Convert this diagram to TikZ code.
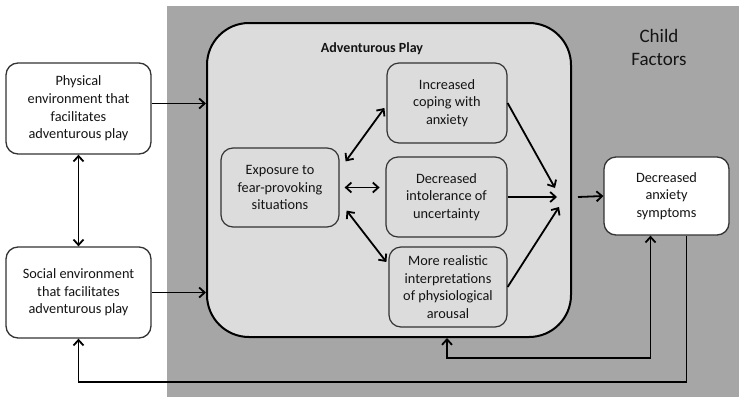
\documentclass[tikz,border=0pt]{standalone}
\usepackage{fontspec}
\setmainfont{Carlito}
\usetikzlibrary{arrows.meta,calc}
\definecolor{bgGray}{HTML}{A6A6A6}
\definecolor{lightGray}{HTML}{DCDCDC}
\definecolor{edgeGray}{HTML}{333333}
\tikzset{
  txt/.style={font=\fontsize{14.3}{17.6}\selectfont, align=center, text=black!92},
  whitebox/.style={txt, draw=edgeGray, line width=1.3pt, fill=white, rounded corners=12pt},
  innerbox/.style={txt, draw=edgeGray, line width=1.2pt, fill=lightGray, rounded corners=12pt},
  bigbox/.style={draw=black, line width=2pt, fill=lightGray, rounded corners=42pt},
  arr/.style={line width=1.8pt, -{Straight Barb[length=5.5pt,width=10pt]}},
  dblarr/.style={line width=1.8pt, {Straight Barb[length=5.5pt,width=10pt]}-{Straight Barb[length=5.5pt,width=10pt]}},
}
\begin{document}
\begin{tikzpicture}[x=1pt,y=-1pt]
\useasboundingbox (0,0) rectangle (743,402);
\fill[bgGray] (167,6) rectangle (739,397);
\node[txt, font=\fontsize{19}{23}\selectfont] (child) at (659,47) {Child\\Factors};
\node[bigbox, minimum width=364, minimum height=314] (ap) at (389,180) {};
\node[txt, font=\fontsize{14}{17}\selectfont\bfseries] (aptitle) at (372,49) {Adventurous Play};

\node[whitebox, minimum width=145, minimum height=91] (phys) at (78.5,108.5) {Physical\\environment that\\facilitates\\adventurous play};
\node[whitebox, minimum width=145, minimum height=91] (soc) at (78.5,292.5) {Social environment\\that facilitates\\adventurous play};
\node[whitebox, minimum width=125, minimum height=78] (da) at (666.5,196) {Decreased\\anxiety\\symptoms};

\node[innerbox, minimum width=118, minimum height=79] (expo) at (280,187.5) {Exposure to\\fear-provoking\\situations};
\node[innerbox, minimum width=120, minimum height=80] (cope) at (447,103) {Increased\\coping with\\anxiety};
\node[innerbox, minimum width=121, minimum height=80] (dec) at (446.5,197) {Decreased\\intolerance of\\uncertainty};
\node[innerbox, minimum width=118, minimum height=80] (more) at (448,287) {More realistic\\interpretations\\of physiological\\arousal};

\coordinate (c1) at (555,188);
\coordinate (c2) at (557,197);
\coordinate (c3) at (559,207);
\coordinate (c4) at (578,197);

% left side
\draw[arr] ([yshift=5pt]phys.east) -- ([yshift=5pt]phys.east -| ap.west);
\draw[arr] (soc.east) -- (soc.east -| ap.west);
\draw[dblarr] (phys.south) -- (soc.north);

% inside
\draw[dblarr] ($(expo.north east)+(6,14)$) -- ($(cope.west)+(-2,5)$);
\draw[dblarr] ($(expo.east)+(5,0)$) -- ($(expo.east)+(40,0)$);
\draw[dblarr] ($(expo.south east)+(7,-17)$) -- ($(more.west)+(-2,-25)$);
\draw[arr] (cope.east) -- (c1);
\draw[arr] (dec.east) -- (c2);
\draw[arr] (more.east) -- (c3);
\draw[arr] (c4) -- (da.west);

% feedback
\draw[dblarr] ($(ap.south)+(58,0)$) -- ++(0,20) -| ($(da.south)+(-16,0)$);
\draw[arr] ($(da.south)+(20,0)$) -- ++(0,146) -| (soc.south);
\end{tikzpicture}
\end{document}
